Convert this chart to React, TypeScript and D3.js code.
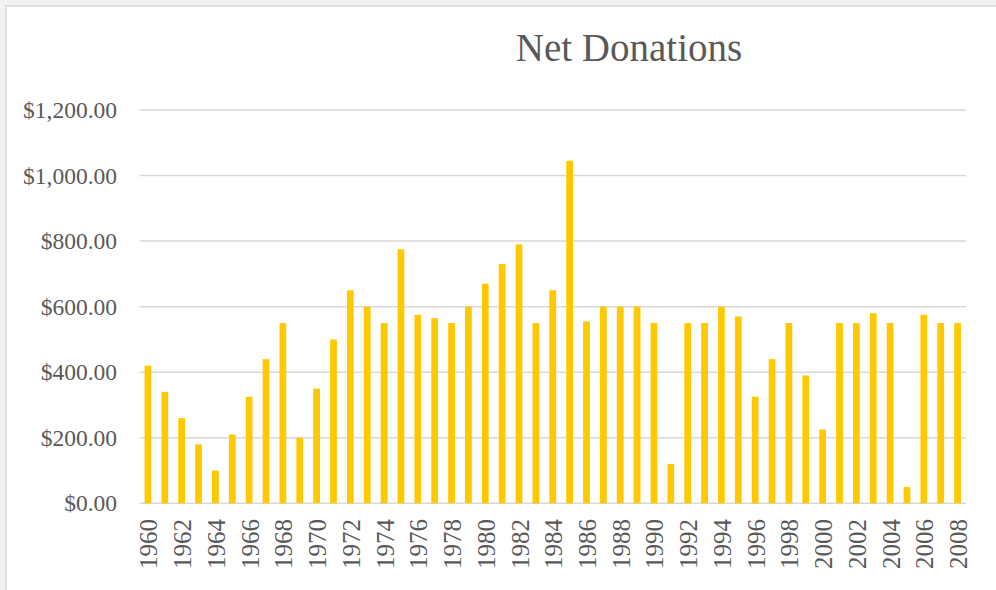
import React from "react";
import { scaleBand, scaleLinear, format, range } from "d3";

const width = 996;
const height = 590;

const years = range(1960, 2009);
const donations = [
  420, 340, 260, 180, 100, 210, 325, 440, 550, 200,
  350, 500, 650, 600, 550, 775, 575, 565, 550, 600,
  670, 730, 790, 550, 650, 1045, 555, 600, 600, 600,
  550, 120, 550, 550, 600, 570, 325, 440, 550, 390,
  225, 550, 550, 580, 550, 50, 575, 550, 550,
];
const yTicks = [0, 200, 400, 600, 800, 1000, 1200];

const plotLeft = 139.5;
const plotRight = 966;
const plotTop = 110;
const plotBottom = 503.3;

const x = scaleBand<number>().domain(years).range([plotLeft, plotRight]).padding(0);
const y = scaleLinear().domain([0, 1200]).range([plotBottom, plotTop]);
const money = format("$,.2f");

const barWidth = x.bandwidth() * 0.4;
const labelFont = "'Liberation Serif', 'Times New Roman', serif";
const textColor = "#595959";
const gridColor = "#d9d9d9";

const App = () => (
  <svg
    width={width}
    height={height}
    style={{ position: "absolute", left: 0, top: 0 }}
  >
    <rect width={width} height={height} fill="#f2f2f2" />
    <rect x={6} y={6} width={width} height={height} fill="#fff" stroke={gridColor} strokeWidth={1.5} />

    <text
      x={629}
      y={61}
      textAnchor="middle"
      fontFamily={labelFont}
      fontSize={39}
      fill={textColor}
    >
      Net Donations
    </text>

    {yTicks.map((t) => (
      <g key={t}>
        <line
          x1={plotLeft}
          x2={plotRight}
          y1={y(t)}
          y2={y(t)}
          stroke={gridColor}
          strokeWidth={1.5}
        />
        <text
          x={117}
          y={y(t)}
          textAnchor="end"
          dominantBaseline="central"
          fontFamily={labelFont}
          fontSize={23.5}
          fill={textColor}
        >
          {money(t)}
        </text>
      </g>
    ))}

    {years.map((yr, i) => (
      <rect
        key={yr}
        x={(x(yr) ?? 0) + x.bandwidth() / 2 - barWidth / 2}
        y={y(donations[i])}
        width={barWidth}
        height={plotBottom - y(donations[i])}
        fill="#ffc800"
      />
    ))}

    {years
      .filter((yr) => (yr - 1960) % 2 === 0)
      .map((yr) => {
        const cx = (x(yr) ?? 0) + x.bandwidth() / 2;
        return (
          <text
            key={yr}
            transform={`translate(${cx + 1}, 519) rotate(-90)`}
            textAnchor="end"
            dominantBaseline="central"
            fontFamily={labelFont}
            fontSize={25}
            fill={textColor}
          >
            {yr}
          </text>
        );
      })}
  </svg>
);

export default App;
